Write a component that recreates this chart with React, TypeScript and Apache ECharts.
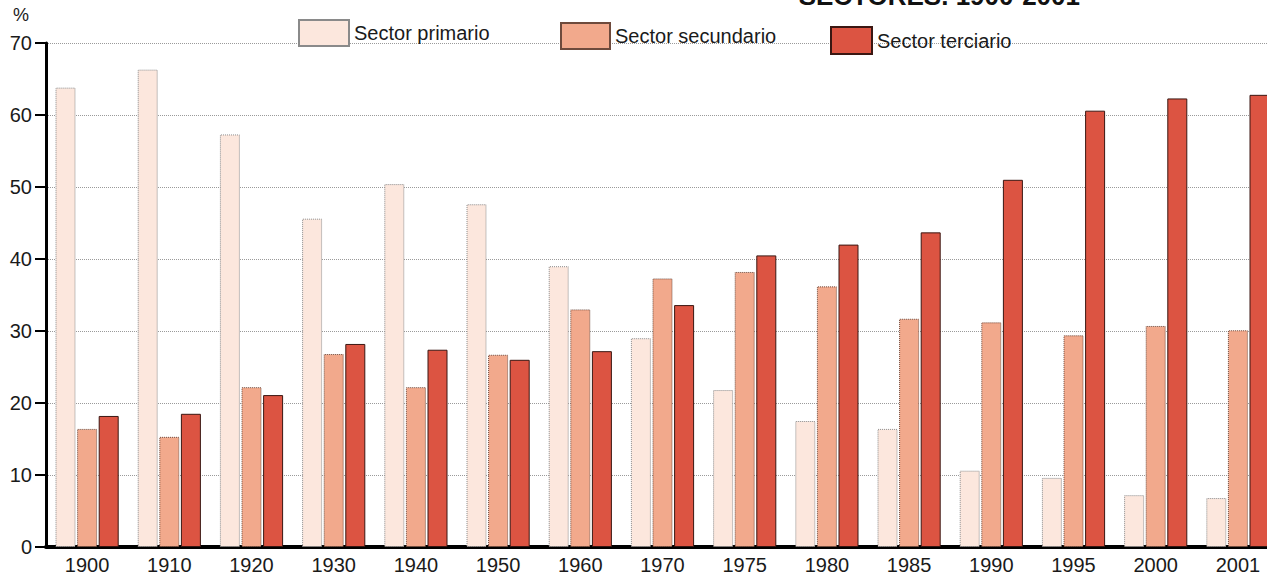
import React, { useEffect, useRef } from "react";
import * as echarts from "echarts";

const years = ["1900", "1910", "1920", "1930", "1940", "1950", "1960", "1970", "1975", "1980", "1985", "1990", "1995", "2000", "2001"];
const primario = [63.8, 66.3, 57.3, 45.6, 50.4, 47.6, 39.0, 29.0, 21.8, 17.5, 16.4, 10.6, 9.6, 7.2, 6.8];
const secundario = [16.4, 15.3, 22.2, 26.8, 22.2, 26.7, 33.0, 37.3, 38.2, 36.2, 31.7, 31.2, 29.4, 30.7, 30.1];
const terciario = [18.2, 18.5, 21.1, 28.2, 27.4, 26.0, 27.2, 33.6, 40.5, 42.0, 43.7, 51.0, 60.6, 62.3, 62.8];
const yTicks = [0, 10, 20, 30, 40, 50, 60, 70];
const seriesNames = ["Sector primario", "Sector secundario", "Sector terciario"];
const titleText = "SECTORES. 1900-2001";

const FONT = "'Liberation Sans', Arial, Helvetica, sans-serif";

export default function App() {
  const ref = useRef<HTMLDivElement>(null);
  useEffect(() => {
    if (!ref.current) return;
    const chart = echarts.init(ref.current, undefined, { renderer: "svg" });
    const legendText = { fontFamily: FONT, fontSize: 20, color: "#1a1a1a" };
    const mk = (name: string, data: number[], color: string, border: string, btype: any) => ({
      name,
      type: "bar",
      data,
      barWidth: 20,
      barGap: "8%",
      itemStyle: { color, borderColor: border, borderWidth: 1, borderType: btype },
    });
    chart.setOption({
      animation: false,
      backgroundColor: "#ffffff",
      textStyle: { fontFamily: FONT },
      grid: { left: 46, right: 1, top: 43, bottom: 33, containLabel: false },
      legend: [
        { data: [seriesNames[0]], left: 293, top: 14, itemWidth: 50, itemHeight: 26, itemGap: 8, textStyle: legendText, icon: "rect" },
        { data: [seriesNames[1]], left: 555, top: 17, itemWidth: 49, itemHeight: 26, itemGap: 8, textStyle: legendText, icon: "rect" },
        { data: [seriesNames[2]], left: 825, top: 21, itemWidth: 41, itemHeight: 27, itemGap: 8, textStyle: legendText, icon: "rect" },
      ],
      xAxis: {
        type: "category",
        data: years,
        axisLine: { show: true, lineStyle: { color: "#000", width: 4 } },
        axisTick: { show: false },
        axisLabel: { fontFamily: FONT, fontSize: 20, color: "#1a1a1a", margin: 8 },
        splitLine: { show: false },
      },
      yAxis: {
        type: "value",
        min: yTicks[0],
        max: yTicks[yTicks.length - 1],
        interval: 10,
        axisLine: { show: true, lineStyle: { color: "#000", width: 3 } },
        axisTick: { show: true, length: 11, lineStyle: { color: "#000", width: 2 } },
        axisLabel: { fontFamily: FONT, fontSize: 20, color: "#1a1a1a", margin: 14 },
        splitLine: { show: true, lineStyle: { color: "#9a9a9a", width: 1, type: "dotted" } },
      },
      graphic: [
        { type: "text", left: 13, top: 6, style: { text: "%", fontFamily: FONT, fontSize: 18, fill: "#1a1a1a" } },
        { type: "text", x: 1080, y: 9, style: { text: titleText, fontFamily: FONT, fontSize: 26, fontWeight: "bold", fill: "#111", align: "right", verticalAlign: "bottom" } },
      ],
      series: [
        mk(seriesNames[0], primario, "#fce7dd", "#8a8a8a", "dotted"),
        mk(seriesNames[1], secundario, "#f2a98c", "#6e4a3c", "dotted"),
        mk(seriesNames[2], terciario, "#dc5442", "#3a1712", "solid"),
      ],
    });
    return () => chart.dispose();
  }, []);
  return (
    <div style={{ position: "absolute", left: 0, top: 0, width: 1267, height: 580, overflow: "hidden", background: "#fff" }}>
      <div ref={ref} style={{ position: "absolute", left: 0, top: 0, width: 1280, height: 580 }} />
    </div>
  );
}
